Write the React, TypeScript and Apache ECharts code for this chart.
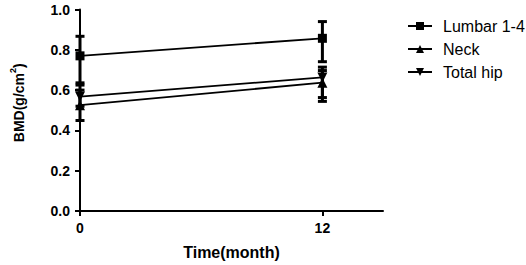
import React, { useEffect, useRef } from "react";
import * as echarts from "echarts";

const months = [0, 12];
const xTickValues = [0, 12];
const lumbarMean = [0.77, 0.857];
const neckMean = [0.525, 0.637];
const hipMean = [0.568, 0.663];
const lumbarLow = [0.636, 0.741];
const lumbarHigh = [0.867, 0.94];
const neckLow = [0.449, 0.544];
const neckHigh = [0.6, 0.697];
const hipLow = [0.52, 0.563];
const hipHigh = [0.625, 0.714];
const yTicks = ["0.0", "0.2", "0.4", "0.6", "0.8", "1.0"];

const FONT = "'Liberation Sans', Arial, sans-serif";

function errData(low: number[], high: number[]) {
  return months.map((m, i) => [m, low[i], high[i]]);
}
function lineData(mean: number[]) {
  return months.map((m, i) => [m, mean[i]]);
}

export default function App() {
  const ref = useRef<HTMLDivElement>(null);
  useEffect(() => {
    if (!ref.current) return;
    const chart = echarts.init(ref.current, null, { renderer: "svg" });
    const renderErr = (params: any, api: any) => {
      const x = api.value(0);
      const lo = api.coord([x, api.value(1)]);
      const hi = api.coord([x, api.value(2)]);
      const w = 4.5;
      const st = { stroke: "#000", lineWidth: 3 };
      return {
        type: "group",
        children: [
          { type: "line", shape: { x1: lo[0], y1: lo[1], x2: hi[0], y2: hi[1] }, style: st },
          { type: "line", shape: { x1: lo[0] - w, y1: lo[1], x2: lo[0] + w, y2: lo[1] }, style: st },
          { type: "line", shape: { x1: hi[0] - w, y1: hi[1], x2: hi[0] + w, y2: hi[1] }, style: st },
        ],
      };
    };
    const errSeries = (low: number[], high: number[]) => ({
      type: "custom",
      renderItem: renderErr,
      data: errData(low, high),
      encode: { x: 0, y: [1, 2] },
      silent: true,
      clip: false,
      z: 3,
    });
    const lineSeries = (name: string, mean: number[], symbol: string, size: number, rotate = 0) => ({
      name,
      type: "line",
      data: lineData(mean),
      symbol,
      symbolSize: size,
      symbolRotate: rotate,
      showAllSymbol: true,
      itemStyle: { color: "#000" },
      lineStyle: { color: "#000", width: 1.8 },
      z: 4,
    });
    chart.setOption({
      animation: false,
      textStyle: { fontFamily: FONT },
      grid: { left: 73, right: 143, top: 9.5, bottom: 50 },
      legend: {
        data: ["Lumbar 1-4", "Neck", "Total hip"],
        orient: "vertical",
        left: 402,
        top: 13,
        itemWidth: 24,
        itemHeight: 10,
        itemGap: 7,
        formatter: (name: string) => "{g|}{t|" + name + "}",
        textStyle: {
          fontSize: 16,
          color: "#000",
          fontFamily: FONT,
          rich: {
            g: { width: 6 },
            t: { fontSize: 16, color: "#000", fontFamily: FONT },
          },
        },
      },
      xAxis: {
        type: "value",
        min: 0,
        max: 15,
        interval: 12,
        name: "Time(month)",
        nameLocation: "middle",
        nameGap: 33,
        nameTextStyle: { fontSize: 16, fontWeight: "bold", color: "#000", fontFamily: FONT },
        axisLine: { show: true, onZero: false, lineStyle: { color: "#000", width: 2 } },
        axisTick: { show: true, length: 5, customValues: xTickValues, lineStyle: { color: "#000", width: 2 } },
        axisLabel: { fontSize: 14, fontWeight: "bold", color: "#000", margin: 10, fontFamily: FONT, customValues: xTickValues },
        splitLine: { show: false },
      },
      yAxis: {
        type: "value",
        min: 0,
        max: 1,
        interval: 0.2,
        name: "{a|BMD(g/cm}{s|2}{a|)}",
        nameLocation: "middle",
        nameGap: 54,
        nameRotate: 90,
        nameTextStyle: {
          padding: [0, 0, 0, 15],
          rich: {
            a: { fontSize: 14, fontWeight: "bold", color: "#000", fontFamily: FONT, lineHeight: 18, verticalAlign: "bottom" },
            s: { fontSize: 9, fontWeight: "bold", color: "#000", fontFamily: FONT, lineHeight: 18, verticalAlign: "top" },
          },
        },
        axisLine: { show: true, onZero: false, lineStyle: { color: "#000", width: 2 } },
        axisTick: { show: true, length: 5, lineStyle: { color: "#000", width: 2 } },
        axisLabel: {
          fontSize: 14,
          fontWeight: "bold",
          color: "#000",
          margin: 10,
          fontFamily: FONT,
          formatter: (v: number) => yTicks[Math.round(v / 0.2)] ?? v.toFixed(1),
        },
        splitLine: { show: false },
      },
      series: [
        lineSeries("Lumbar 1-4", lumbarMean, "rect", 9),
        lineSeries("Neck", neckMean, "triangle", 10),
        lineSeries("Total hip", hipMean, "triangle", 10, 180),
        errSeries(lumbarLow, lumbarHigh),
        errSeries(neckLow, neckHigh),
        errSeries(hipLow, hipHigh),
      ],
    });
    return () => chart.dispose();
  }, []);
  return <div ref={ref} style={{ width: 526, height: 265, position: "absolute", left: 0, top: 0 }} />;
}
